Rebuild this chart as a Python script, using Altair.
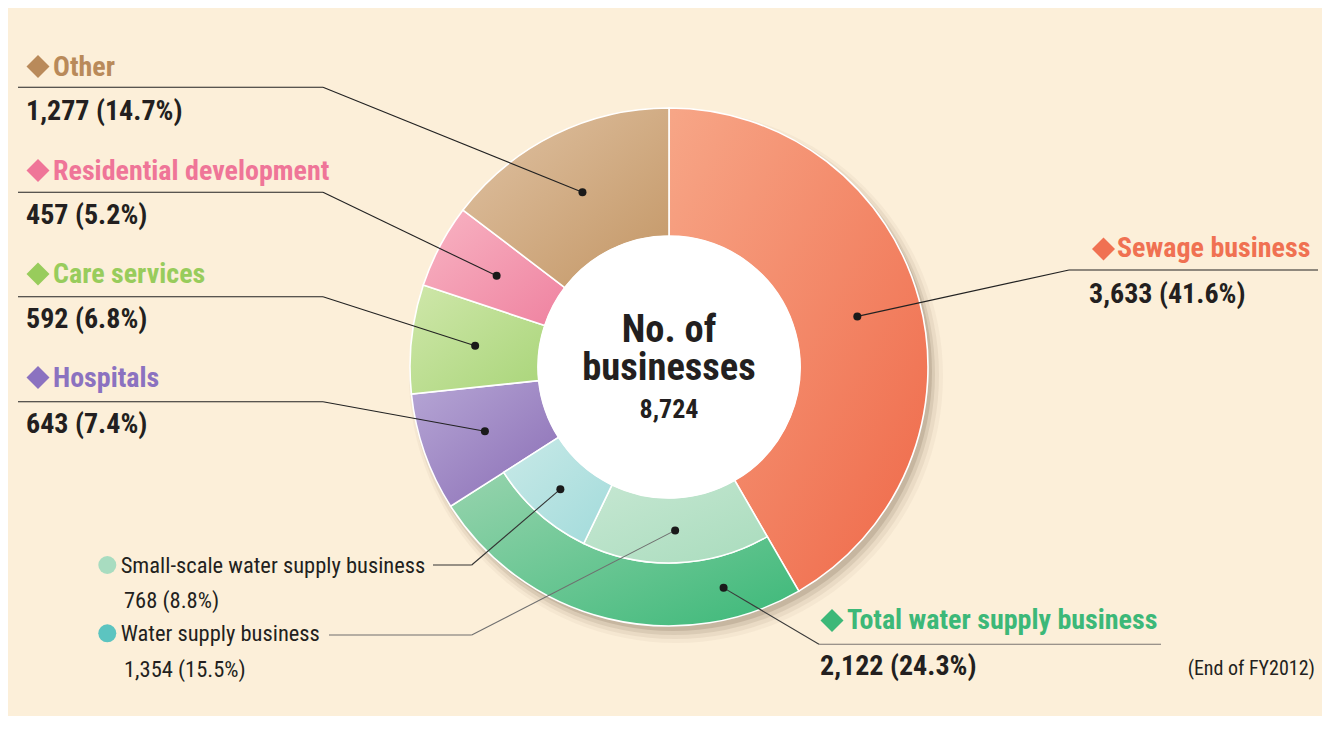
import math
import altair as alt
import pandas as pd

# ---------------- data ----------------
categories = ["Sewage business", "Total water supply business", "Hospitals",
              "Care services", "Residential development", "Other"]
counts = [3633, 2122, 643, 592, 457, 1277]
pct_labels = ["41.6%", "24.3%", "7.4%", "6.8%", "5.2%", "14.7%"]

sub_categories = ["Water supply business", "Small-scale water supply business"]
sub_counts = [1354, 768]
sub_pct_labels = ["15.5%", "8.8%"]

center_title = ["No. of", "businesses"]
total_count = sum(counts)
footnote = "(End of FY2012)"

# ---------------- styles / layout (page pixels) ----------------
OFF = 8  # page margin
CX, CY = 669, 367
R_OUT, R_MID, R_IN = 259, 196, 131
FONT = "Liberation Sans Narrow, Roboto Condensed, DejaVu Sans Condensed, sans-serif"
BG = "#fcefd9"

grad_colors = {
    "Sewage business": ("#f7a687", "#ef6848"),
    "Total water supply business": ("#98d4ae", "#3bb878"),
    "Hospitals": ("#b6a6d5", "#8a6db5"),
    "Care services": ("#cfe7aa", "#a9d579"),
    "Residential development": ("#f8b4c3", "#ef82a0"),
    "Other": ("#e0c3a4", "#c39665"),
    "Water supply business": ("#c6e7d2", "#a9dcbd"),
    "Small-scale water supply business": ("#c8e9e7", "#a2dbdb"),
}
label_colors = {
    "Sewage business": "#f07152",
    "Total water supply business": "#3cb878",
    "Hospitals": "#8b72c0",
    "Care services": "#98cc5c",
    "Residential development": "#ef7598",
    "Other": "#b98a5a",
}
legend_dot_colors = {"Small-scale water supply business": "#a8dcc0",
                     "Water supply business": "#5cc4c0"}

# header: (diamond cx, diamond cy, text x, header baseline, value x, value baseline,
#          underline x1, underline x2, underline y, elbow x, anchor fraction)
layout = {
    "Other": (38, 66.5, 53, 76, 26, 120, 18, 323, 87.3, 323, 0.5),
    "Residential development": (38, 170.5, 53, 180, 26, 224, 18, 323, 192.3, 323, 0.5),
    "Care services": (38, 274, 53, 283.3, 26, 328, 18, 323, 296.7, 323, 0.5),
    "Hospitals": (38, 377.5, 53, 386.7, 26, 432.7, 18, 323, 401.7, 323, 0.5),
    "Sewage business": (1103.5, 249, 1117, 257.3, 1089, 303.3, 1069, 1318, 270, 1069, 0.5),
    "Total water supply business": (832, 620.5, 847, 629.3, 820, 675, 819, 1161, 644.3, 819, 0.185),
}
# small labels: (legend dot y, label baseline, value baseline, line x1, elbow x, line y, line colour)
sub_layout = {
    "Small-scale water supply business": (565, 573.3, 608.3, 433, 471.7, 565, "#333333"),
    "Water supply business": (633.3, 640.7, 676.7, 329, 471.7, 635, "#6f6f6f"),
}

# ---------------- derived tables ----------------
starts, s = [], 0
for c in counts:
    starts.append(s)
    s += c
arcs = pd.DataFrame({"name": categories, "count": counts, "start": starts,
                     "end": [a + b for a, b in zip(starts, counts)]})
sub_starts, s = [], starts[1]
for c in sub_counts:
    sub_starts.append(s)
    s += c
sub_arcs = pd.DataFrame({"name": sub_categories, "count": sub_counts, "start": sub_starts,
                         "end": [a + b for a, b in zip(sub_starts, sub_counts)]})


def polar(value, radius):
    ang = value / total_count * 2 * math.pi
    return CX + radius * math.sin(ang), CY - radius * math.cos(ang)


def csize(r):
    # Vega symbol size = (diameter)^2
    return (2 * r) ** 2


theta_scale = alt.Scale(domain=[0, total_count])


def grad(c1, c2):
    return alt.Gradient(gradient="linear",
                        stops=[alt.GradientStop(color=c1, offset=0),
                               alt.GradientStop(color=c2, offset=1)],
                        x1=0, y1=0, x2=1, y2=1)


layers = []

# shadow (soft, offset to lower right)
shadow_df = pd.DataFrame({"k": [0]})
for dr, dx, dy, op in [(8, 7, 9, 0.05), (5, 6, 8, 0.08), (2, 5, 7, 0.12), (0, 4, 5, 0.18)]:
    r = R_OUT + dr
    layers.append(alt.Chart(shadow_df).mark_circle(
        size=csize(r), color="#6e5a45", opacity=op).encode(
        x=alt.value(CX + dx - OFF), y=alt.value(CY + dy - OFF)))

# main ring
ring_radius = {"Total water supply business": (R_OUT, R_MID)}
for name in categories:
    ro, ri = ring_radius.get(name, (R_OUT, R_IN))
    layers.append(alt.Chart(arcs).transform_filter(alt.datum.name == name).mark_arc(
        radius=ro, radius2=ri, color=grad(*grad_colors[name]),
        stroke="white", strokeWidth=1.6).encode(
        theta=alt.Theta("start:Q", scale=theta_scale, stack=None),
        theta2="end:Q",
        x=alt.value(CX - OFF), y=alt.value(CY - OFF)))
# inner water ring
for name in sub_categories:
    layers.append(alt.Chart(sub_arcs).transform_filter(alt.datum.name == name).mark_arc(
        radius=R_MID, radius2=R_IN, color=grad(*grad_colors[name]),
        stroke="white", strokeWidth=1.6).encode(
        theta=alt.Theta("start:Q", scale=theta_scale, stack=None),
        theta2="end:Q",
        x=alt.value(CX - OFF), y=alt.value(CY - OFF)))
# white centre
layers.append(alt.Chart(shadow_df).mark_circle(
    size=csize(R_IN + 0.5), color="white", opacity=1).encode(
    x=alt.value(CX - OFF), y=alt.value(CY - OFF)))

# leader lines, dots, labels
rules, dots, diamonds, heads, vals = [], [], [], [], []
for name, cnt, st, pct in zip(categories, counts, starts, pct_labels):
    dcx, dcy, tx, hb, vx, vb, ux1, ux2, uy, ex, frac = layout[name]
    rr = (R_OUT + R_IN) / 2 if name != "Total water supply business" else (R_OUT + R_MID) / 2
    px, py = polar(st + cnt * frac, rr)
    lc = "#222222" if name != "Total water supply business" else "#3a3a3a"
    ulc = lc if name != "Total water supply business" else "#7a7470"
    rules.append({"x": ux1, "y": uy, "x2": ux2, "y2": uy, "c": ulc})
    rules.append({"x": ex, "y": uy, "x2": px, "y2": py, "c": lc})
    dots.append({"x": px, "y": py})
    diamonds.append({"x": dcx, "y": dcy, "c": label_colors[name]})
    heads.append({"x": tx, "y": hb, "t": name, "c": label_colors[name]})
    vals.append({"x": vx, "y": vb, "t": f"{cnt:,} ({pct})"})

small_texts, legend_dots = [], []
for name, cnt, st, pct in zip(sub_categories, sub_counts, sub_starts, sub_pct_labels):
    ly, lb, vb, lx1, ex, lyy, lc = sub_layout[name]
    px, py = polar(st + cnt / 2, (R_MID + R_IN) / 2)
    rules.append({"x": lx1, "y": lyy, "x2": ex, "y2": lyy, "c": lc})
    rules.append({"x": ex, "y": lyy, "x2": px, "y2": py, "c": lc})
    dots.append({"x": px, "y": py})
    legend_dots.append({"x": 107.3, "y": ly, "c": legend_dot_colors[name]})
    small_texts.append({"x": 120.7, "y": lb, "t": name})
    small_texts.append({"x": 124, "y": vb, "t": f"{cnt:,} ({pct})"})


def shift(rows, keys=("x", "y", "x2", "y2")):
    df = pd.DataFrame(rows)
    for k in keys:
        if k in df:
            df[k] = df[k] - OFF
    return df


X = lambda f="x": alt.X(f"{f}:Q", scale=None, axis=None)
Y = lambda f="y": alt.Y(f"{f}:Q", scale=None, axis=None)

layers.append(alt.Chart(shift(rules)).mark_rule(strokeWidth=1.1).encode(
    x=X(), y=Y(), x2="x2:Q", y2="y2:Q", color=alt.Color("c:N", scale=None)))
layers.append(alt.Chart(shift(dots)).mark_circle(size=64, color="#1a1a1a", opacity=1).encode(
    x=X(), y=Y()))
layers.append(alt.Chart(shift(diamonds)).mark_point(
    shape="diamond", filled=True, size=530, opacity=1).encode(
    x=X(), y=Y(), color=alt.Color("c:N", scale=None)))
layers.append(alt.Chart(shift(legend_dots)).mark_circle(size=csize(9), opacity=1).encode(
    x=X(), y=Y(), color=alt.Color("c:N", scale=None)))
layers.append(alt.Chart(shift(heads)).mark_text(
    align="left", baseline="alphabetic", font=FONT, fontSize=28, fontWeight="bold").encode(
    x=X(), y=Y(), text="t:N", color=alt.Color("c:N", scale=None)))
layers.append(alt.Chart(shift(vals)).mark_text(
    align="left", baseline="alphabetic", font=FONT, fontSize=28, fontWeight="bold",
    color="#231f20").encode(x=X(), y=Y(), text="t:N"))
layers.append(alt.Chart(shift(small_texts)).mark_text(
    align="left", baseline="alphabetic", font=FONT, fontSize=22.5, color="#231f20").encode(
    x=X(), y=Y(), text="t:N"))
layers.append(alt.Chart(shift([{"x": 1315, "y": 675, "t": footnote}])).mark_text(
    align="right", baseline="alphabetic", font=FONT, fontSize=20, color="#231f20").encode(
    x=X(), y=Y(), text="t:N"))

centre = [{"x": CX, "y": 342, "t": center_title[0], "fs": 38.5},
          {"x": CX, "y": 380, "t": center_title[1], "fs": 38.5},
          {"x": CX, "y": 417.7, "t": f"{total_count:,}", "fs": 26}]
layers.append(alt.Chart(shift(centre)).mark_text(
    align="center", baseline="alphabetic", font=FONT, fontWeight="bold", color="#231f20").encode(
    x=X(), y=Y(), text="t:N", size=alt.Size("fs:Q", scale=None)))

chart = alt.layer(*layers).properties(
    width=1314, height=708, background=BG, padding=0, autosize="none"
).configure_view(stroke=None)

chart.save("out.html", embed_options={"renderer": "svg", "actions": False})
